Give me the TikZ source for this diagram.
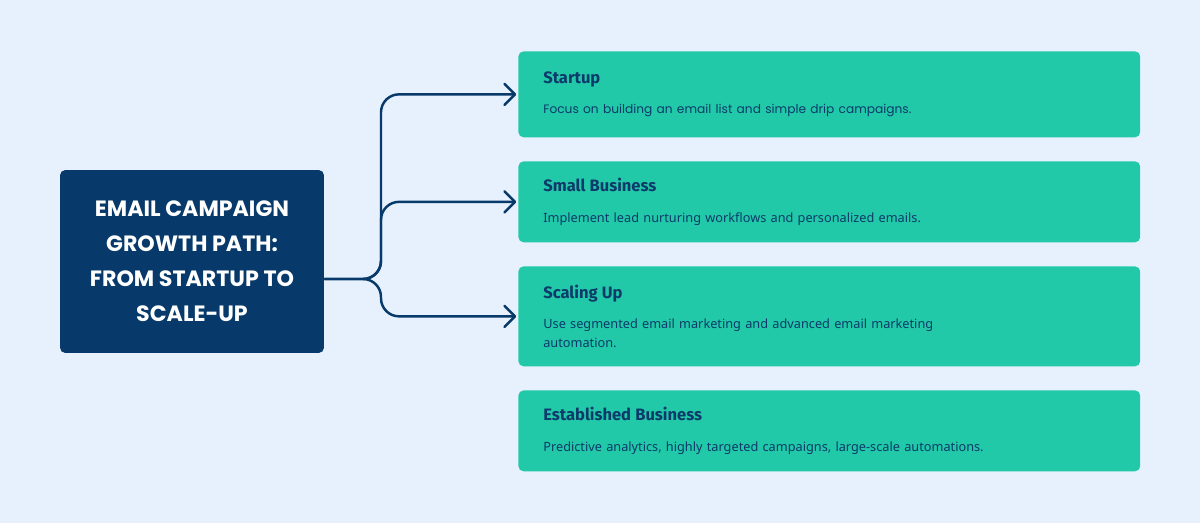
\documentclass[tikz,border=0pt]{standalone}
\usepackage{fontspec}
\usetikzlibrary{arrows.meta,positioning}
\setmainfont{Noto Sans}
\newfontfamily\titlefont{Poppins}
\newfontfamily\headfont{Fira Sans}
\newcommand\stagehead[1]{{\headfont\bfseries\fontsize{9.4}{12}\selectfont #1}}
\definecolor{pagebg}{HTML}{E7F0FD}
\definecolor{navy}{HTML}{073A6A}
\definecolor{mint}{HTML}{21C9A8}
\definecolor{ink}{HTML}{0D3A6A}
\begin{document}
\begin{tikzpicture}[x=0.02cm,y=-0.02cm,
    hubbox/.style={fill=navy, rounded corners=3pt, text=white, align=center,
        minimum width=5.28cm, minimum height=3.66cm,
        font=\titlefont\bfseries\fontsize{12.6}{20}\selectfont},
    stage/.style={fill=mint, rounded corners=3pt, anchor=north west, align=left,
        minimum width=12.44cm, text width=11.44cm, inner xsep=0.5cm, inner ysep=0pt,
        text=ink, font=\fontsize{7.25}{10.8}\selectfont},
    link/.style={draw=navy, line width=1.4pt, rounded corners=0.36cm,
        -{Straight Barb[length=6pt,width=12pt,round]}, shorten >=1pt}]
    \fill[pagebg] (0,0) rectangle (1200,523);
    \node[hubbox] (hub) at (192,261.5) {EMAIL CAMPAIGN\\GROWTH PATH:\\FROM STARTUP TO\\SCALE-UP};
    \node[stage, minimum height=1.72cm] (startup) at (518,51)
        {\stagehead{Startup}\\[6.5pt]{\titlefont\fontsize{6.95}{10.8}\selectfont Focus on building an email list and simple drip campaigns.}};
    \node[stage, minimum height=1.62cm] (smallbiz) at (518,161)
        {\stagehead{Small Business}\\[6.5pt]Implement lead nurturing workflows and personalized emails.};
    \node[stage, minimum height=2.0cm] (scaling) at (518,266)
        {\stagehead{Scaling Up}\\[6.5pt]Use segmented email marketing and advanced email marketing\\automation.};
    \node[stage, minimum height=1.62cm] (established) at (518,390)
        {\stagehead{Established Business}\\[6.5pt]Predictive analytics, highly targeted campaigns, large-scale automations.};
    \coordinate (fork) at (381,279);
    \foreach \dest in {startup,smallbiz,scaling}
        \draw[link] (hub.east |- fork) -- (fork) |- (\dest.west);
\end{tikzpicture}
\end{document}
